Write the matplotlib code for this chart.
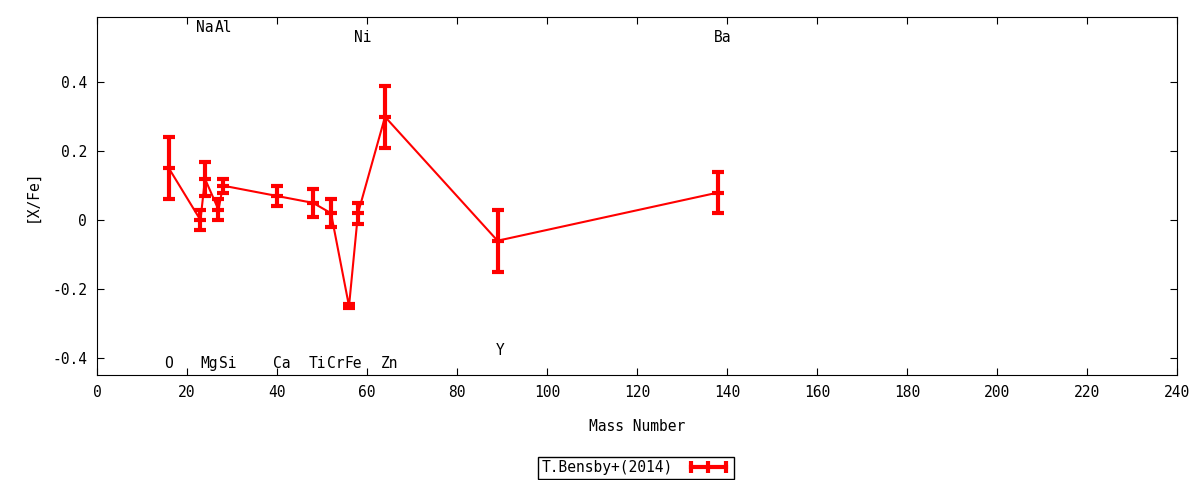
import matplotlib.pyplot as plt
from matplotlib.lines import Line2D
from matplotlib.ticker import FuncFormatter, MultipleLocator

plt.rcParams["font.family"] = ["DejaVu Sans Mono"]
plt.rcParams["font.size"] = 10

# abundance ratios vs mass number
mass = [16, 23, 24, 27, 28, 40, 48, 52, 56, 58, 64, 89, 138]
xfe = [0.15, 0.00, 0.12, 0.03, 0.10, 0.07, 0.05, 0.02, -0.25, 0.02, 0.30, -0.06, 0.08]
err = [0.09, 0.03, 0.05, 0.03, 0.02, 0.03, 0.04, 0.04, 0.005, 0.03, 0.09, 0.09, 0.06]

# element labels
elements = ["O", "Na", "Mg", "Al", "Si", "Ca", "Ti", "Cr", "Fe", "Ni", "Zn", "Y", "Ba"]
label_x = [16, 24, 25, 28, 29, 41, 49, 53, 57, 59, 65, 89.5, 139]
label_y = [-0.418, 0.558, -0.418, 0.558, -0.418, -0.418, -0.418, -0.418, -0.418,
           0.53, -0.418, -0.378, 0.53]

fig = plt.figure(figsize=(12, 4.8), dpi=100)
ax = fig.add_axes([0.0808, 0.21875, 0.9002, 0.7459])

ax.plot(mass, xfe, color="red", lw=1.5, zorder=2)
ax.errorbar(mass, xfe, yerr=err, fmt="none", ecolor="red", elinewidth=3,
            capsize=4, capthick=3, zorder=3)
ax.plot(mass, xfe, ls="none", marker="_", ms=9, mew=3, color="red", zorder=4)

for el, lx, ly in zip(elements, label_x, label_y):
    ax.text(lx, ly, el, ha="center", va="center", fontsize=10.5)

ax.set_xlim(0, 240)
ax.set_ylim(-0.45, 0.59)
ax.xaxis.set_major_locator(MultipleLocator(20))
ax.yaxis.set_major_locator(MultipleLocator(0.2))
ax.yaxis.set_major_formatter(FuncFormatter(lambda v, p: "%g" % round(v, 2)))
ax.tick_params(direction="in", top=True, right=True, length=5, labelsize=10.5, pad=7)
ax.set_xlabel("Mass Number", fontsize=10.5, labelpad=14)
ax.set_ylabel("[X/Fe]", fontsize=10.5, labelpad=9)

handle = Line2D([], [], color="red", lw=3, marker="|", ms=9, mew=3)
fig.legend([handle], ["T.Bensby+(2014)"], loc="lower center", bbox_to_anchor=(0.53, -0.022),
           numpoints=3, markerfirst=False, fancybox=False, edgecolor="black",
           framealpha=1, fontsize=10.5, borderpad=0.25, borderaxespad=0.8,
           handlelength=3.0, handletextpad=0.9)

plt.savefig("out.png", dpi=100)
